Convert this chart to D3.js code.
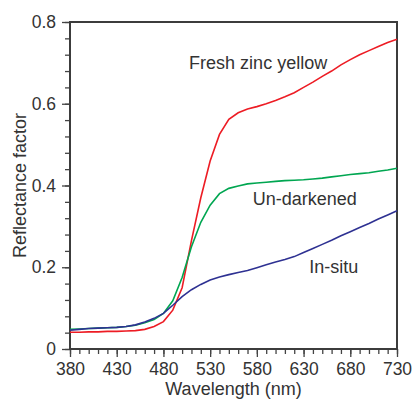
<!DOCTYPE html>
<html>
<head>
<meta charset="utf-8">
<script src="https://cdn.jsdelivr.net/npm/d3@7"></script>
<style>
  body { margin: 0; background: #fff; }
  text { font-family: "Liberation Sans", Arial, sans-serif; fill: #333; }
</style>
</head>
<body>
<script>
// wavelength in nm, every 10 nm
var wavelengths = [380, 390, 400, 410, 420, 430, 440, 450, 460, 470, 480, 490,
                   500, 510, 520, 530, 540, 550, 560, 570, 580, 590, 600, 610,
                   620, 630, 640, 650, 660, 670, 680, 690, 700, 710, 720, 730];

var freshZinc = [0.041, 0.041, 0.042, 0.042, 0.043, 0.043, 0.044, 0.045, 0.048, 0.055, 0.067, 0.095,
                 0.150, 0.265, 0.370, 0.460, 0.525, 0.562, 0.578, 0.587, 0.593, 0.600, 0.608, 0.617,
                 0.627, 0.640, 0.653, 0.667, 0.680, 0.695, 0.708, 0.720, 0.730, 0.740, 0.750, 0.758];

var unDarkened = [0.048, 0.049, 0.050, 0.051, 0.052, 0.053, 0.055, 0.058, 0.064, 0.072, 0.087, 0.118,
                  0.175, 0.250, 0.310, 0.352, 0.380, 0.393, 0.399, 0.404, 0.406, 0.408, 0.410, 0.412,
                  0.413, 0.414, 0.416, 0.418, 0.421, 0.424, 0.427, 0.429, 0.431, 0.435, 0.438, 0.442];

var inSitu = [0.046, 0.048, 0.050, 0.051, 0.052, 0.053, 0.055, 0.059, 0.066, 0.075, 0.087, 0.107,
              0.128, 0.145, 0.158, 0.169, 0.176, 0.182, 0.187, 0.192, 0.199, 0.206, 0.213, 0.219,
              0.226, 0.236, 0.246, 0.256, 0.266, 0.277, 0.287, 0.297, 0.307, 0.318, 0.328, 0.338];

var xTicks = [380, 430, 480, 530, 580, 630, 680, 730];
var yTicks = [0, 0.2, 0.4, 0.6, 0.8];
var yTickLabels = ['0', '0.2', '0.4', '0.6', '0.8'];

var series = [
  {name: 'Fresh zinc yellow', values: freshZinc, color: '#ed1c24', lx: 507.5, ly: 0.684},
  {name: 'Un-darkened', values: unDarkened, color: '#00a651', lx: 575.5, ly: 0.352},
  {name: 'In-situ', values: inSitu, color: '#2e3192', lx: 636, ly: 0.187}
];

var margin = {top: 22, right: 16, bottom: 52, left: 70},
    width = 413 - margin.left - margin.right,
    height = 401 - margin.top - margin.bottom;

var x = d3.scaleLinear().domain([380, 730]).range([0, width]);
var y = d3.scaleLinear().domain([0, 0.8]).range([height, 0]);

var svg = d3.select("body")
    .append("svg")
        .attr("width", 413)
        .attr("height", 401)
    .append("g")
        .attr("transform", "translate(" + margin.left + "," + margin.top + ")");

// minor ticks first, then major ticks with labels
svg.append("g")
    .attr("transform", "translate(0," + height + ")")
    .call(d3.axisBottom(x).tickValues(d3.range(380, 731, 10)).tickSize(5).tickFormat(""));
svg.append("g")
    .attr("class", "xaxis")
    .attr("transform", "translate(0," + height + ")")
    .call(d3.axisBottom(x).tickValues(xTicks).tickSize(8).tickPadding(6));

svg.append("g")
    .call(d3.axisLeft(y).tickValues(d3.range(0, 0.801, 0.04)).tickSize(5).tickFormat(""));
svg.append("g")
    .attr("class", "yaxis")
    .call(d3.axisLeft(y).tickValues(yTicks).tickSize(8).tickPadding(6)
      .tickFormat(function(d, i) { return yTickLabels[i]; }));

svg.selectAll(".domain").remove();
svg.selectAll(".tick line").attr("stroke", "#444").attr("stroke-width", 1.3);
svg.selectAll(".tick text").style("font-size", "17.5px").attr("fill", "#333");

// frame
svg.append("rect")
    .attr("width", width)
    .attr("height", height)
    .attr("fill", "none")
    .attr("stroke", "#3c3c3c")
    .attr("stroke-width", 2);

var line = d3.line()
    .x(function(d, i) { return x(wavelengths[i]); })
    .y(function(d) { return y(d); });

svg.selectAll(".curve")
    .data(series)
  .enter().append("path")
    .attr("class", "curve")
    .attr("d", function(d) { return line(d.values); })
    .attr("fill", "none")
    .attr("stroke", function(d) { return d.color; })
    .attr("stroke-width", 1.6);

svg.selectAll(".label")
    .data(series)
  .enter().append("text")
    .attr("class", "label")
    .attr("x", function(d) { return x(d.lx); })
    .attr("y", function(d) { return y(d.ly); })
    .style("font-size", "18px")
    .text(function(d) { return d.name; });

// axis titles
svg.append("text")
    .attr("x", width / 2)
    .attr("y", height + 46)
    .attr("text-anchor", "middle")
    .style("font-size", "18px")
    .text("Wavelength (nm)");

svg.append("text")
    .attr("transform", "translate(-44," + (height / 2) + ") rotate(-90)")
    .attr("text-anchor", "middle")
    .style("font-size", "18px")
    .text("Reflectance factor");
</script>
</body>
</html>
